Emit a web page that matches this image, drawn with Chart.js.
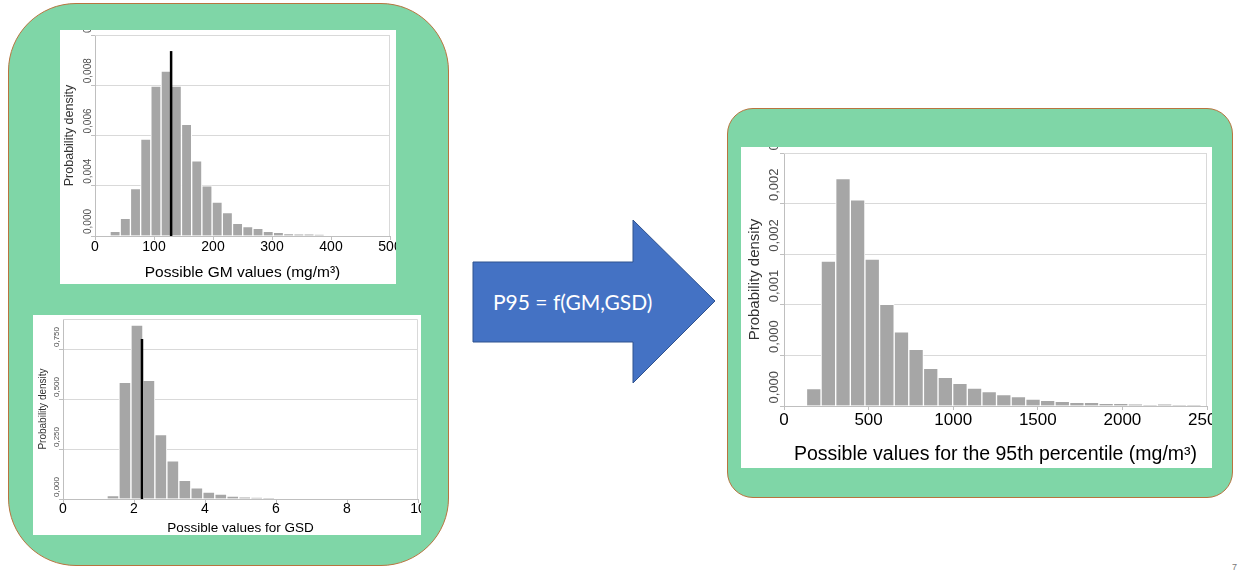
<!DOCTYPE html>
<html>
<head>
<meta charset="utf-8">
<script src="https://cdn.jsdelivr.net/npm/chart.js@4.4.1/dist/chart.umd.min.js"></script>
<style>
  html, body { margin: 0; padding: 0; background: #fff; }
  body { width: 1238px; height: 573px; position: relative; overflow: hidden;
         font-family: 'Liberation Sans', Arial, sans-serif; }
  .box { position: absolute; background: #7fd6a7; border: 1.5px solid #b8743f; box-sizing: border-box; }
  .panel { position: absolute; background: #fff; overflow: hidden; }
  .panel canvas { position: absolute; left: 0; top: 0; }
  #flow { position: absolute; left: 0; top: 0; }
  #page { position: absolute; left: 1232px; top: 562px; font-size: 9px; color: #777; }
</style>
</head>
<body>
<div class="box" style="left:8px;top:3px;width:441px;height:563px;border-radius:68px;"></div>
<div class="box" style="left:727px;top:108px;width:506px;height:390px;border-radius:26px;"></div>

<svg id="flow" width="1238" height="573" xmlns="http://www.w3.org/2000/svg">
  <polygon points="473,262 633,262 633,220 715,301 633,383 633,342 473,342"
           fill="#4472c4" stroke="#2f528f" stroke-width="1"/>
  <text x="493" y="310" fill="#fff" font-family="Lato, 'Open Sans', sans-serif" font-size="21">P95 = f(GM,GSD)</text>
</svg>

<div class="panel" style="left:60px;top:30px;width:336px;height:254px;"><canvas id="gm" width="336" height="254"></canvas></div>
<div class="panel" style="left:33px;top:315px;width:388px;height:220px;"><canvas id="gsd" width="388" height="220"></canvas></div>
<div class="panel" style="left:741px;top:147px;width:471px;height:321px;"><canvas id="p95" width="471" height="321"></canvas></div>
<div id="page">7</div>

<script>
// Geometric mean (GM) histogram: bin midpoints (mg/m3) and densities
const GM_BIN_MID = [34.1, 51.4, 68.7, 86.0, 103.3, 120.6, 137.9, 155.2, 172.5, 189.8, 207.1,
                    224.4, 241.7, 259.0, 276.3, 293.6, 310.9, 328.2, 345.5, 362.8, 380.1];
const GM_DENSITY = [0.00023, 0.00088, 0.00236, 0.00482, 0.00746, 0.00821, 0.00746, 0.00556,
                    0.00374, 0.00249, 0.00169, 0.00116, 0.00063, 0.00047, 0.00038, 0.00023,
                    0.00018, 0.00012, 0.00008, 0.00008, 0.00007];
const GM_POINT = 129;
const GM_POINT_TOP = 0.0092;
const GM_X_TICKS = [0, 100, 200, 300, 400, 500];
const GM_X_LABELS = ['0', '100', '200', '300', '400', '500'];
const GM_Y_TICKS = [0, 0.0025, 0.005, 0.0075, 0.01];
const GM_Y_LABELS = ['0,000', '0,004', '0,006', '0,008', '0,010'];

// Geometric standard deviation (GSD) histogram
const GSD_BIN_MID = [1.408, 1.745, 2.083, 2.420, 2.757, 3.095, 3.432, 3.770, 4.107, 4.445,
                     4.782, 5.119, 5.457, 5.794];
const GSD_DENSITY = [0.0166, 0.583, 0.869, 0.593, 0.322, 0.191, 0.093, 0.056, 0.035, 0.025,
                     0.015, 0.0083, 0.0066, 0.0033];
const GSD_POINT = 2.225;
const GSD_POINT_TOP = 0.8;
const GSD_X_TICKS = [0, 2, 4, 6, 8, 10];
const GSD_X_LABELS = ['0', '2', '4', '6', '8', '10'];
const GSD_Y_TICKS = [0, 0.25, 0.5, 0.75];
const GSD_Y_LABELS = ['0,000', '0,250', '0,500', '0,750'];
const GSD_Y_MAX = 0.9;

// 95th percentile (P95) histogram
const P95_BIN_MID = [176.0, 262.4, 348.8, 435.2, 521.6, 608.0, 694.4, 780.8, 867.2, 953.6,
                     1040.0, 1126.4, 1212.8, 1299.2, 1385.6, 1472.0, 1558.4, 1644.8, 1731.2,
                     1817.6, 1904.0, 1990.4, 2076.8, 2163.2, 2249.6, 2336.0, 2422.4];
const P95_DENSITY = [0.000172, 0.001433, 0.002246, 0.002038, 0.001453, 0.001004, 0.000733,
                     0.000561, 0.000373, 0.000284, 0.000225, 0.000178, 0.000142, 0.000112,
                     0.0000925, 0.000069, 0.000056, 0.000046, 0.000036, 0.000036, 0.000026,
                     0.000026, 0.0000165, 0.00001, 0.0000165, 0.0000066, 0.0000066];
const P95_X_TICKS = [0, 500, 1000, 1500, 2000, 2500];
const P95_X_LABELS = ['0', '500', '1000', '1500', '2000', '2500'];
const P95_Y_TICKS = [0, 0.0005, 0.001, 0.0015, 0.002, 0.0025];
const P95_Y_LABELS = ['0,000', '0,000', '0,001', '0,002', '0,002', '0,003'];

const FAMILY = "'Liberation Sans', Arial, sans-serif";
Chart.defaults.font.family = FAMILY;

// light frame along the top and right of the plotting area
const framePlugin = {
  id: 'frame',
  beforeDatasetsDraw(chart) {
    const { ctx, chartArea: a } = chart;
    ctx.save();
    ctx.strokeStyle = '#d9d9d9';
    ctx.lineWidth = 1;
    ctx.beginPath();
    ctx.moveTo(a.left, a.top + 0.5);
    ctx.lineTo(a.right - 0.5, a.top + 0.5);
    ctx.lineTo(a.right - 0.5, a.bottom);
    ctx.stroke();
    ctx.restore();
  }
};

// y tick labels written along the axis, starting just above each gridline
function verticalTickText(s) {
  return {
    id: 'verticalTickText',
    afterDraw(chart) {
      const { ctx } = chart;
      const y = chart.scales.y;
      ctx.save();
      ctx.font = s.yTickSize + 'px ' + FAMILY;
      ctx.fillStyle = '#4d4d4d';
      ctx.textAlign = 'left';
      ctx.textBaseline = 'middle';
      s.yTicks.forEach((v, i) => {
        const py = y.getPixelForValue(v);
        ctx.save();
        ctx.translate(s.yTickX, py - s.yTickGap);
        ctx.rotate(-Math.PI / 2);
        ctx.fillText(s.yLabels[i], 0, 0);
        ctx.restore();
      });
      ctx.restore();
    }
  };
}

function histogram(id, s) {
  const datasets = [];
  if (s.point !== undefined) {
    datasets.push({
      type: 'line',
      data: [{ x: s.point, y: 0 }, { x: s.point, y: s.pointTop }],
      borderColor: '#000',
      borderWidth: 2.5,
      pointRadius: 0,
      order: 0
    });
  }
  datasets.push({
    type: 'bar',
    data: s.mids.map((m, i) => ({ x: m, y: s.values[i] })),
    backgroundColor: '#a6a6a6',
    borderColor: '#ffffff',
    borderWidth: 1,
    borderSkipped: 'start',
    barPercentage: 1,
    categoryPercentage: 1,
    order: 1
  });

  return new Chart(document.getElementById(id), {
    type: 'bar',
    data: { datasets },
    options: {
      responsive: false,
      animation: false,
      devicePixelRatio: 1,
      layout: { padding: { top: s.padTop, right: s.padRight, left: 0, bottom: 0 } },
      plugins: { legend: { display: false }, tooltip: { enabled: false } },
      scales: {
        x: {
          type: 'linear',
          min: s.xTicks[0],
          max: s.xTicks[s.xTicks.length - 1],
          offset: false,
          grid: { offset: false, drawOnChartArea: false, drawTicks: true, tickLength: 4, color: '#bfbfbf' },
          border: { color: '#bfbfbf' },
          afterBuildTicks: sc => { sc.ticks = s.xTicks.map(v => ({ value: v })); },
          ticks: {
            autoSkip: false, maxRotation: 0, minRotation: 0,
            padding: s.xTickPad, color: '#000', font: { size: s.xTickSize },
            callback: (v, i) => s.xLabels[i]
          },
          title: {
            display: true, text: s.xTitle, color: '#000',
            font: { size: s.xTitleSize }, padding: { top: 0, bottom: s.xTitlePad }
          },
          afterFit: sc => { sc.height = s.xAxisH; sc.paddingLeft = 0; sc.paddingRight = 0; }
        },
        y: {
          min: 0,
          max: s.yMax,
          grid: { color: '#d9d9d9', tickLength: 4, tickColor: '#bfbfbf' },
          border: { color: '#bfbfbf' },
          afterBuildTicks: sc => { sc.ticks = s.yTicks.map(v => ({ value: v })); },
          ticks: { display: false },
          title: {
            display: true, text: 'Probability density', color: '#333',
            font: { size: s.yTitleSize }, padding: { top: s.yTitlePad, bottom: 0 }
          },
          afterFit: sc => { sc.width = s.yAxisW; sc.paddingTop = 0; sc.paddingBottom = 0; }
        }
      }
    },
    plugins: [framePlugin, verticalTickText(s)]
  });
}

histogram('gm', {
  mids: GM_BIN_MID, values: GM_DENSITY, point: GM_POINT, pointTop: GM_POINT_TOP,
  xTicks: GM_X_TICKS, xLabels: GM_X_LABELS, yTicks: GM_Y_TICKS, yLabels: GM_Y_LABELS, yMax: 0.01,
  xTitle: 'Possible GM values (mg/m³)',
  padTop: 5, padRight: 6, yAxisW: 35, xAxisH: 48,
  xTickSize: 14, xTickPad: -1, xTitleSize: 15.5, xTitlePad: 1.7,
  yTitleSize: 12.5, yTitlePad: 2.5, yTickSize: 10, yTickX: 28, yTickGap: 2
});

histogram('gsd', {
  mids: GSD_BIN_MID, values: GSD_DENSITY, point: GSD_POINT, pointTop: GSD_POINT_TOP,
  xTicks: GSD_X_TICKS, xLabels: GSD_X_LABELS, yTicks: GSD_Y_TICKS, yLabels: GSD_Y_LABELS, yMax: GSD_Y_MAX,
  xTitle: 'Possible values for GSD',
  padTop: 4, padRight: 3, yAxisW: 30, xAxisH: 36,
  xTickSize: 14, xTickPad: -2, xTitleSize: 13.5, xTitlePad: -1.8,
  yTitleSize: 10, yTitlePad: 4.3, yTickSize: 8, yTickX: 24, yTickGap: 2
});

histogram('p95', {
  mids: P95_BIN_MID, values: P95_DENSITY,
  xTicks: P95_X_TICKS, xLabels: P95_X_LABELS, yTicks: P95_Y_TICKS, yLabels: P95_Y_LABELS, yMax: 0.0025,
  xTitle: 'Possible values for the 95th percentile (mg/m³)',
  padTop: 6, padRight: 5, yAxisW: 43, xAxisH: 62,
  xTickSize: 17, xTickPad: 0, xTitleSize: 19.5, xTitlePad: 1.3,
  yTitleSize: 15, yTitlePad: 5, yTickSize: 13, yTickX: 33, yTickGap: 2.5
});
</script>
</body>
</html>
